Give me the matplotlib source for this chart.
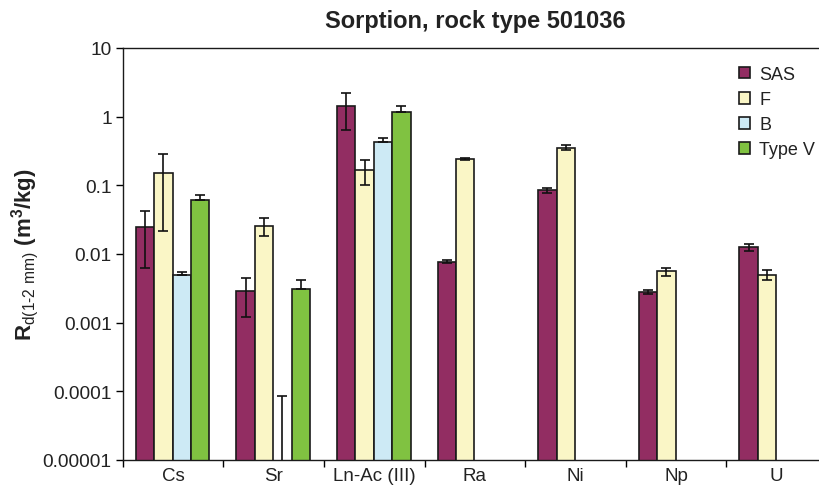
import numpy as np
import matplotlib
matplotlib.use('Agg')
import matplotlib.pyplot as plt

plt.rcParams.update({'font.family': 'Liberation Sans'})
plt.rcParams.update({'mathtext.fontset': 'custom',
                     'mathtext.rm': 'Liberation Sans',
                     'mathtext.bf': 'Liberation Sans:bold'})

categories = ['Cs', 'Sr', 'Ln-Ac (III)', 'Ra', 'Ni', 'Np', 'U']
series = ['SAS', 'F', 'B', 'Type V']
colors = ['#922d62', '#faf6c6', '#cdeaf5', '#80c241']

nan = np.nan
# values (m3/kg)
sas = [0.0245, 0.00286, 1.445, 0.00774, 0.0846, 0.00283, 0.0125]
f = [0.151, 0.0258, 0.169, 0.242, 0.354, 0.0056, 0.0050]
b = [0.00494, 0.000009, 0.423, nan, nan, nan, nan]
typev = [0.0612, 0.00309, 1.18, nan, nan, nan, nan]

# error bar ends (low, high)
sas_lo = [0.00625, 0.00121, 0.647, 0.0074, 0.0779, 0.00264, 0.0111]
sas_hi = [0.0427, 0.00453, 2.21, 0.0081, 0.0917, 0.00303, 0.0141]
f_lo = [0.0216, 0.0183, 0.101, 0.236, 0.326, 0.00485, 0.00424]
f_hi = [0.286, 0.0331, 0.2366, 0.248, 0.389, 0.00628, 0.0058]
b_lo = [0.00494, 0.000009, 0.423, nan, nan, nan, nan]
b_hi = [0.0054, 0.0000865, 0.494, nan, nan, nan, nan]
typev_lo = [0.0612, 0.00309, 1.18, nan, nan, nan, nan]
typev_hi = [0.073, 0.00423, 1.43, nan, nan, nan, nan]

yticks = [1e-5, 1e-4, 1e-3, 1e-2, 1e-1, 1, 10]
ytick_labels = ['0.00001', '0.0001', '0.001', '0.01', '0.1', '1', '10']

vals = [sas, f, b, typev]
lows = [sas_lo, f_lo, b_lo, typev_lo]
highs = [sas_hi, f_hi, b_hi, typev_hi]

fig = plt.figure(figsize=(8.19, 4.89), dpi=100)
ax = fig.add_axes([0.150, 0.0573, 0.8598, 0.8425])
ax.set_yscale('log')

x = np.arange(len(categories))
w = 0.183

for j in range(len(series)):
    v = np.array(vals[j], dtype=float)
    lo = np.array(lows[j], dtype=float)
    hi = np.array(highs[j], dtype=float)
    pos = x + (j - 1.5) * w - 0.005
    ax.bar(pos, v, width=w, color=colors[j], edgecolor='#1a1a1a', linewidth=1.2,
           label=series[j], zorder=2)
    ax.errorbar(pos, v, yerr=[v - lo, hi - v], fmt='none', ecolor='#111111',
                elinewidth=1.2, capsize=3.8, capthick=1.2, zorder=3)

ax.set_ylim(1e-5, 10)
ax.set_xlim(-0.5, len(categories) - 0.5)
ax.set_yticks(yticks)
ax.set_yticklabels(ytick_labels)
ax.set_yticks([], minor=True)
ax.tick_params(axis='y', direction='out', length=5, width=1, labelsize=13.8,
               pad=3, labelcolor='#222222')

ax.set_xticks(np.arange(len(categories) + 1) - 0.5)
ax.set_xticklabels([])
ax.set_xticks(x, minor=True)
ax.set_xticklabels(categories, minor=True)
ax.tick_params(axis='x', which='major', direction='out', length=5, width=1)
ax.tick_params(axis='x', which='minor', length=0, labelsize=13.5, pad=5,
               labelcolor='#222222')

for s in ax.spines.values():
    s.set_linewidth(1.0)
    s.set_color('#1a1a1a')

ax.set_title('Sorption, rock type 501036', fontsize=17, fontweight='bold',
             pad=15, color='#222222')
ax.set_ylabel(r'$\mathbf{R}_{\mathrm{d(1\text{-}2\ mm)}}$ (m$^\mathbf{3}$/kg)',
              fontsize=16, fontweight='bold', labelpad=1, color='#222222')

ax.legend(loc='upper left', bbox_to_anchor=(739 / 819, 1 - 67 / 489),
          bbox_transform=fig.transFigure, frameon=False, fontsize=13,
          borderpad=0, borderaxespad=0,
          handlelength=0.62, handleheight=0.62, handletextpad=0.5,
          labelspacing=0.45, labelcolor='#222222')

plt.savefig('out.png', dpi=100)
